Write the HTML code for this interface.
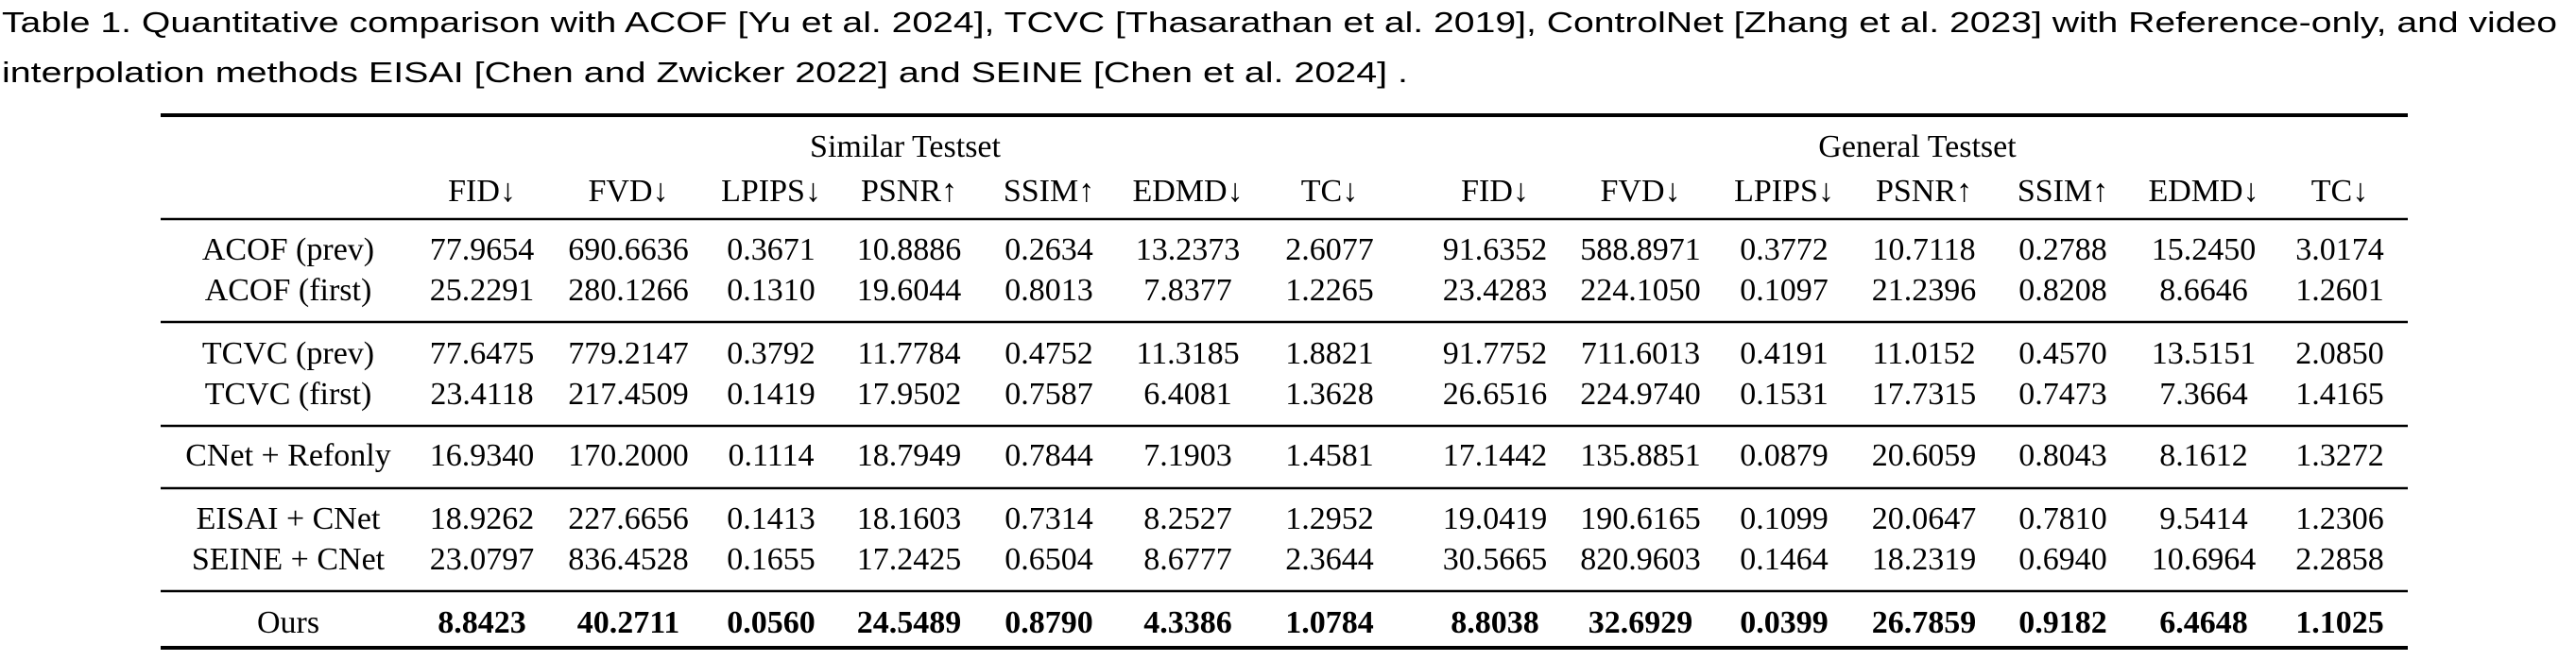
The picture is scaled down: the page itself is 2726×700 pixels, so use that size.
<!DOCTYPE html>
<html><head><meta charset="utf-8">
<style>
html,body{margin:0;padding:0;background:#fff;}
svg{display:block;}
.cap{font-family:"Liberation Sans",sans-serif;font-size:31px;fill:#000;}
.t{font-family:"Liberation Serif",serif;font-size:34px;fill:#000;}
.b{font-weight:bold;}
</style></head>
<body>
<svg id="tbl" width="2726" height="700" viewBox="0 0 2726 700" xmlns="http://www.w3.org/2000/svg">
<text class="cap" x="2" y="34" textLength="2704" lengthAdjust="spacingAndGlyphs">Table 1.  Quantitative comparison with ACOF [Yu et al. 2024], TCVC [Thasarathan et al. 2019], ControlNet [Zhang et al. 2023] with Reference-only, and video</text>
<text class="cap" x="2" y="87" textLength="1488" lengthAdjust="spacingAndGlyphs">interpolation methods EISAI [Chen and Zwicker 2022] and SEINE [Chen et al. 2024] .</text>
<text class="t" x="958" y="166" text-anchor="middle">Similar Testset</text>
<text class="t" x="2029" y="166" text-anchor="middle">General Testset</text>
<g id="rules"></g>
<g id="cells"></g>
</svg>
<script>
const metrics = ["FID↓","FVD↓","LPIPS↓","PSNR↑","SSIM↑","EDMD↓","TC↓"];
const methods = ["ACOF (prev)","ACOF (first)","TCVC (prev)","TCVC (first)","CNet + Refonly","EISAI + CNet","SEINE + CNet","Ours"];
const similarValues = [
 ["77.9654","690.6636","0.3671","10.8886","0.2634","13.2373","2.6077"],
 ["25.2291","280.1266","0.1310","19.6044","0.8013","7.8377","1.2265"],
 ["77.6475","779.2147","0.3792","11.7784","0.4752","11.3185","1.8821"],
 ["23.4118","217.4509","0.1419","17.9502","0.7587","6.4081","1.3628"],
 ["16.9340","170.2000","0.1114","18.7949","0.7844","7.1903","1.4581"],
 ["18.9262","227.6656","0.1413","18.1603","0.7314","8.2527","1.2952"],
 ["23.0797","836.4528","0.1655","17.2425","0.6504","8.6777","2.3644"],
 ["8.8423","40.2711","0.0560","24.5489","0.8790","4.3386","1.0784"]
];
const generalValues = [
 ["91.6352","588.8971","0.3772","10.7118","0.2788","15.2450","3.0174"],
 ["23.4283","224.1050","0.1097","21.2396","0.8208","8.6646","1.2601"],
 ["91.7752","711.6013","0.4191","11.0152","0.4570","13.5151","2.0850"],
 ["26.6516","224.9740","0.1531","17.7315","0.7473","7.3664","1.4165"],
 ["17.1442","135.8851","0.0879","20.6059","0.8043","8.1612","1.3272"],
 ["19.0419","190.6165","0.1099","20.0647","0.7810","9.5414","1.2306"],
 ["30.5665","820.9603","0.1464","18.2319","0.6940","10.6964","2.2858"],
 ["8.8038","32.6929","0.0399","26.7859","0.9182","6.4648","1.1025"]
];
const NS="http://www.w3.org/2000/svg";
const labelX=305;
const simX=[510,665,816,962,1110,1257,1407];
const genX=[1582,1736,1888,2036,2183,2332,2476];
const rowY=[275,318,385,428,493,560,603,670];
const headerY=213;
const ruleSpec=[[122,4],[232,2.5],[341,2.5],[451,2.5],[517,2.5],[626,2.5],[686,4]];
const cells=document.getElementById('cells');
const rules=document.getElementById('rules');
function txt(x,y,s,bold){
  const t=document.createElementNS(NS,'text');
  t.setAttribute('x',x);t.setAttribute('y',y);
  t.setAttribute('text-anchor','middle');
  t.setAttribute('class','t'+(bold?' b':''));
  t.textContent=s;cells.appendChild(t);return t;
}
ruleSpec.forEach((r,i)=>{
  const l=document.createElementNS(NS,'rect');
  l.setAttribute('x',170);l.setAttribute('width',2378);
  l.setAttribute('y',r[0]-r[1]/2);l.setAttribute('height',r[1]);
  l.setAttribute('fill','#000');
  
  
  rules.appendChild(l);
});
metrics.forEach((m,j)=>{
  let a=txt(simX[j],headerY,m,false);
  
  
  let b=txt(genX[j],headerY,m,false);
  
  
});
methods.forEach((name,i)=>{
  const bold=(i===methods.length-1);
  let l=txt(labelX,rowY[i],name,false);
  
  
  similarValues[i].forEach((v,j)=>{
    let c=txt(simX[j],rowY[i],v,bold);
    
    
  });
  generalValues[i].forEach((v,j)=>{
    let c=txt(genX[j],rowY[i],v,bold);
    
    
  });
});
</script>
</body></html>
